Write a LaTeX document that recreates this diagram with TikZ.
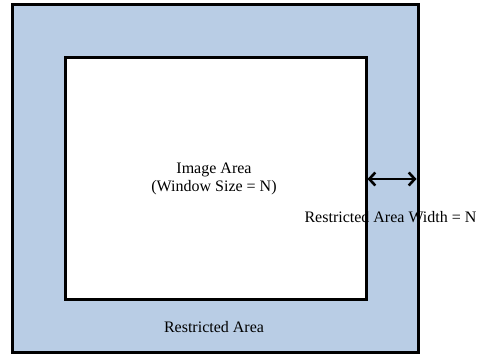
\documentclass[tikz,border=0pt]{standalone}
\usepackage{fontspec}
\setmainfont{Liberation Serif}
\usetikzlibrary{arrows.meta}
\definecolor{restrict}{RGB}{185,205,229}
\tikzset{
  border/.style={line width=3pt, line join=miter},
  lbl/.style={font=\fontsize{16}{18}\selectfont, inner sep=0pt, align=center},
  dimarrow/.style={line width=2.6pt, {Straight Barb[length=6pt,width=13pt]}-{Straight Barb[length=6pt,width=13pt]}}
}
\begin{document}
\begin{tikzpicture}[x=1pt,y=-1pt]
\useasboundingbox (0,0) rectangle (478,354);
\coordinate (o1) at (12.5,4.5);
\coordinate (o2) at (418,352);
\coordinate (i1) at (65.5,57.5);
\coordinate (i2) at (366,299.5);
\fill[restrict] (o1) rectangle (o2);
\fill[white] (i1) rectangle (i2);
\node[lbl] (img) at (214,179) {Image Area\\(Window Size = N)};
\node[lbl] (ra) at (214,327) {Restricted Area};
\node[lbl] (raw) at (390.5,217) {Restricted Area Width = N};
\draw[border] (o1) rectangle (o2);
\draw[border] (i1) rectangle (i2);
\coordinate (a1) at (367.5,179);
\coordinate (a2) at (416.5,179);
\draw[dimarrow] (a1) -- (a2);
\end{tikzpicture}
\end{document}
